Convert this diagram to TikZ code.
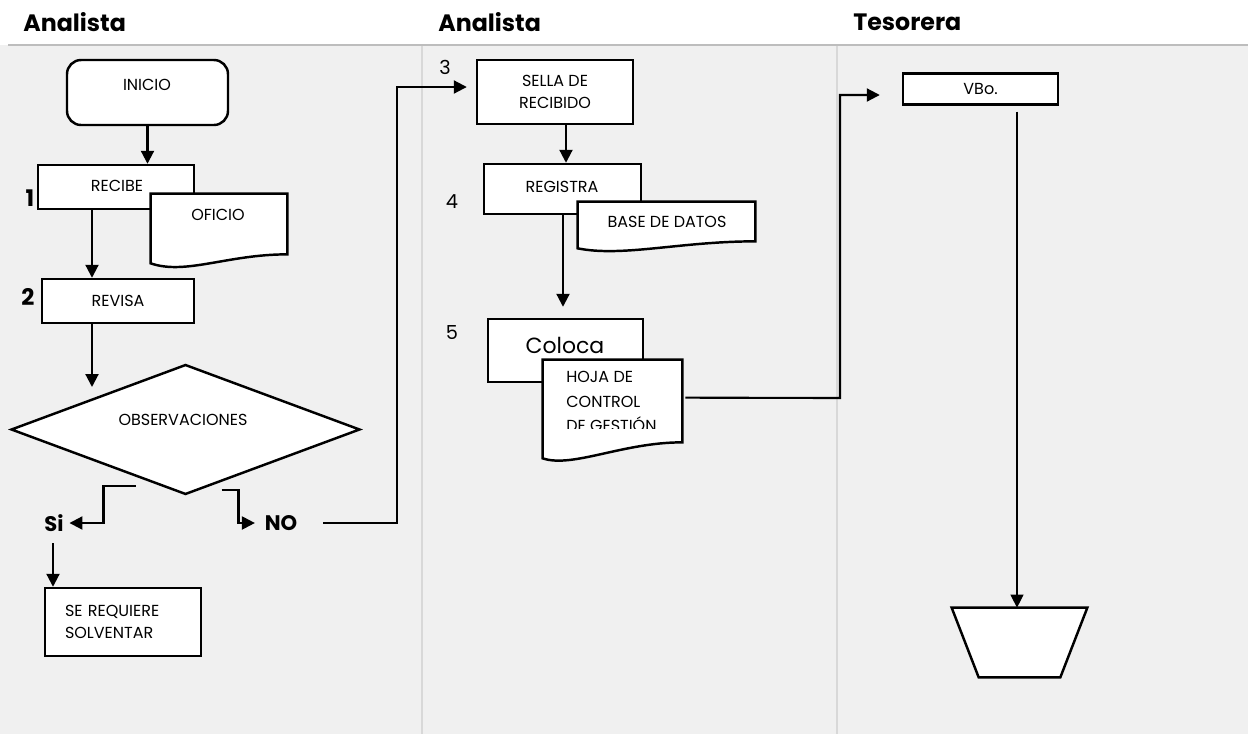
\documentclass[tikz,border=0pt]{standalone}
\usepackage{fontspec}
\setmainfont{Poppins}
\usetikzlibrary{arrows.meta,shapes.geometric,calc}
\definecolor{bgc}{HTML}{F0F0F0}
\definecolor{hline}{HTML}{BDBDBD}
\definecolor{lanec}{HTML}{D8D8D8}
\begin{document}
\begin{tikzpicture}[x=0.02cm,y=-0.02cm,
  box/.style={draw,line width=1.4pt,fill=white,rectangle,inner sep=0pt},
  shp/.style={draw,line width=1.4pt,fill=white},
  ghost/.style={rectangle,inner sep=0pt},
  txt/.style={font=\fontsize{9.1}{12.6}\selectfont,align=center,inner sep=0pt},
  arr/.style={line width=1.2pt,-{Triangle[length=0.26cm,width=0.26cm]}},
  thinarr/.style={line width=0.6pt,-{Triangle[length=0.26cm,width=0.26cm]}},
  hdr/.style={font=\fontsize{13.5}{16}\selectfont\bfseries,anchor=west,inner sep=0pt},
  numb/.style={font=\fontsize{13}{15}\selectfont\bfseries,inner sep=0pt},
  numr/.style={font=\fontsize{11}{13}\selectfont,inner sep=0pt},
  lbl/.style={font=\fontsize{12}{14}\selectfont\bfseries,inner sep=2pt}]
\useasboundingbox (0,0) rectangle (1248,734);
% background
\fill[white] (0,0) rectangle (1248,45);
\fill[bgc] (0,45) rectangle (1248,734);
\draw[hline,line width=1.6pt] (8,45) -- (1248,45);
\draw[lanec,line width=0.6pt] (422,46) -- (422,734);
\draw[lanec,line width=0.6pt] (837,46) -- (837,734);
% headers
\node[hdr] (h1) at (23,22) {Analista};
\node[hdr] (h2) at (438,22) {Analista};
\node[hdr] (h3) at (853,22) {Tesorera};

% ---- lane 1
\node[box,rounded corners=8pt,minimum width=3.22cm,minimum height=1.3cm] (inicio) at (147.5,92.5) {};
\node[txt] (inicio-t) at (147,85) {INICIO};
\node[box,minimum width=3.12cm,minimum height=0.88cm] (recibe) at (116,187) {};
\node[txt] (recibe-t) at (117,186) {RECIBE};
\node[ghost,minimum width=2.72cm,minimum height=1.38cm] (oficio) at (219,228.5) {};
\draw[shp] (oficio.south west) -- (oficio.north west) -- (oficio.north east) -- ($(oficio.south east)+(0,-9)$)
  .. controls ($(oficio.south east)+(-60,-9)$) and ($(oficio.south west)+(35,12)$) .. (oficio.south west) -- cycle;
\node[txt] (oficio-t) at (218,215) {OFICIO};
\node[numb] (n1) at (30,198) {1};
\node[box,minimum width=3.04cm,minimum height=0.88cm,txt] (revisa) at (118,301) {REVISA};
\node[numb] (n2) at (28,297) {2};
\node[shp,diamond,aspect=2.68,minimum width=6.98cm,minimum height=2.6cm,inner sep=0pt] (obs) at (185.5,429.5) {};
\node[txt] (obs-t) at (183,420) {OBSERVACIONES};
\node[lbl] (si) at (54,523) {Si};
\node[lbl] (no) at (281,523) {NO};
\node[box,minimum width=3.12cm,minimum height=1.36cm,text width=2.32cm,align=left,font=\fontsize{9.1}{12.6}\selectfont] (sesolv) at (123,622) {SE REQUIERE\\SOLVENTAR};

% ---- lane 2
\node[numr] (n3) at (445,67) {3};
\node[box,minimum width=3.12cm,minimum height=1.28cm,txt] (sella) at (555,92) {SELLA DE\\RECIBIDO};
\node[numr] (n4) at (452,202) {4};
\node[box,minimum width=3.14cm,minimum height=1.0cm] (registra) at (562.5,189) {};
\node[txt] (registra-t) at (562,187) {REGISTRA};
\node[ghost,minimum width=3.54cm,minimum height=0.92cm] (base) at (666.5,225) {};
\draw[shp] (base.south west) -- (base.north west) -- (base.north east) -- ($(base.south east)+(0,-7)$)
  .. controls ($(base.south east)+(-75,-7)$) and ($(base.south west)+(45,9)$) .. (base.south west) -- cycle;
\node[txt] (base-t) at (667,222) {BASE DE DATOS};
\node[numr] (n5) at (452,333) {5};
\node[box,minimum width=3.1cm,minimum height=1.26cm] (coloca) at (565.5,350.5) {};
\node[inner sep=0pt,font=\fontsize{12.5}{15}\selectfont] (coloca-t) at (565,345) {Coloca};
\node[ghost,minimum width=2.78cm,minimum height=1.96cm] (hoja) at (612.5,409) {};
\draw[shp] (hoja.south west) -- (hoja.north west) -- (hoja.north east) -- ($(hoja.south east)+(0,-16)$)
  .. controls ($(hoja.south east)+(-60,-16)$) and ($(hoja.south west)+(30,10)$) .. (hoja.south west) -- cycle;
\begin{scope}
\clip (543,360) rectangle (682,428);
\node[txt,align=left,anchor=north west,font=\fontsize{9.1}{14}\selectfont] (hoja-t) at (566,371) {HOJA DE\\CONTROL\\DE GESTIÓN};
\end{scope}

% ---- lane 3
\node[box,minimum width=3.1cm,minimum height=0.62cm,txt] (vbo) at (980.5,89) {VBo.};
\node[ghost,minimum width=2.7cm,minimum height=1.38cm] (fin) at (1019.5,642.5) {};
\draw[shp] (fin.north west) -- (fin.north east) -- ($(fin.south east)+(-27,0)$) -- ($(fin.south west)+(27,0)$) -- cycle;

% ---- connectors
\coordinate (xa) at (92,0);
\coordinate (xs) at (53,0);
\coordinate (xm) at (566,0);
\coordinate (xm2) at (563,0);
\coordinate (xf) at (1017,0);
\coordinate (obsin) at (92,387);
\coordinate (nostart) at (323,523);
\draw[arr] (inicio.south) -- (inicio.south |- recibe.north);
\draw[arr] (recibe.south -| xa) -- (revisa.north -| xa);
\draw[arr] (revisa.south -| xa) -- (obsin);
\draw[arr] ($(obs.south)+(-50,-10)$) -- ++(-32,0) |- ($(si.east)+(2,0)$);
\draw[arr] ($(obs.south)+(36,-6)$) -- ++(17,0) |- ($(no.west)+(-6,0)$);
\draw[arr] (nostart) -- (397,523) |- ($(sella.west)+(-9,-5)$);
\draw[arr] ($(si.south -| xs)+(0,8)$) -- (sesolv.north -| xs);
\draw[arr] (sella.south -| xm) -- (registra.north -| xm);
\draw[arr] (registra.south -| xm2) -- ($(coloca.north -| xm2)+(0,-11)$);
\draw[arr] ($(hoja.north east)+(3,38)$) -- (840,398) |- ($(vbo.west)+(-22,6)$);
\draw[thinarr] ($(vbo.south -| xf)+(0,6)$) -- (fin.north -| xf);
\end{tikzpicture}
\end{document}
